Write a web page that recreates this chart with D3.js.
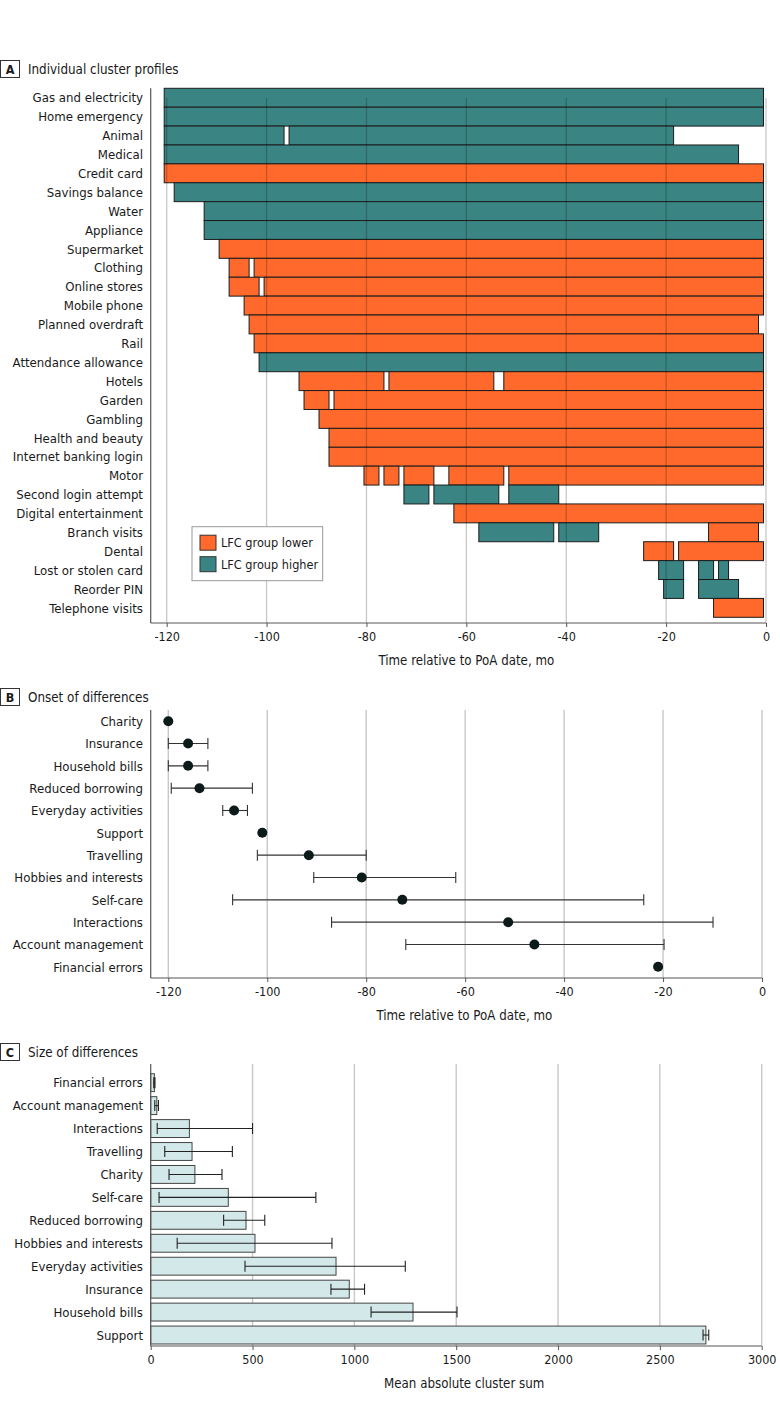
<!DOCTYPE html>
<html>
<head>
<meta charset="utf-8">
<script src="https://cdn.jsdelivr.net/npm/d3@7"></script>
<style>
  body { margin: 0; background: #fff; }
  text { font-family: "DejaVu Sans Condensed", "DejaVu Sans", sans-serif; font-stretch: condensed; fill: #1a1a1a; }
</style>
</head>
<body>
<div id="chart"></div>
<script>
// ---- Panel A: individual cluster profiles (monthly bins, inclusive start/end month)
const profileNames = [
  'Gas and electricity', 'Home emergency', 'Animal', 'Medical', 'Credit card',
  'Savings balance', 'Water', 'Appliance', 'Supermarket', 'Clothing',
  'Online stores', 'Mobile phone', 'Planned overdraft', 'Rail', 'Attendance allowance',
  'Hotels', 'Garden', 'Gambling', 'Health and beauty', 'Internet banking login',
  'Motor', 'Second login attempt', 'Digital entertainment', 'Branch visits', 'Dental',
  'Lost or stolen card', 'Reorder PIN', 'Telephone visits'
];

// [category, group, first month, last month]
const profileSegments = [
  ['Gas and electricity', 'higher', -120, -1],
  ['Home emergency', 'higher', -120, -1],
  ['Animal', 'higher', -120, -97],
  ['Animal', 'higher', -95, -19],
  ['Medical', 'higher', -120, -6],
  ['Credit card', 'lower', -120, -1],
  ['Savings balance', 'higher', -118, -1],
  ['Water', 'higher', -112, -1],
  ['Appliance', 'higher', -112, -1],
  ['Supermarket', 'lower', -109, -1],
  ['Clothing', 'lower', -107, -104],
  ['Clothing', 'lower', -102, -1],
  ['Online stores', 'lower', -107, -102],
  ['Online stores', 'lower', -100, -1],
  ['Mobile phone', 'lower', -104, -1],
  ['Planned overdraft', 'lower', -103, -2],
  ['Rail', 'lower', -102, -1],
  ['Attendance allowance', 'higher', -101, -1],
  ['Hotels', 'lower', -93, -77],
  ['Hotels', 'lower', -75, -55],
  ['Hotels', 'lower', -52, -1],
  ['Garden', 'lower', -92, -88],
  ['Garden', 'lower', -86, -1],
  ['Gambling', 'lower', -89, -1],
  ['Health and beauty', 'lower', -87, -1],
  ['Internet banking login', 'lower', -87, -1],
  ['Motor', 'lower', -80, -78],
  ['Motor', 'lower', -76, -74],
  ['Motor', 'lower', -72, -67],
  ['Motor', 'lower', -63, -53],
  ['Motor', 'lower', -51, -1],
  ['Second login attempt', 'higher', -72, -68],
  ['Second login attempt', 'higher', -66, -54],
  ['Second login attempt', 'higher', -51, -42],
  ['Digital entertainment', 'lower', -62, -1],
  ['Branch visits', 'higher', -57, -43],
  ['Branch visits', 'higher', -41, -34],
  ['Branch visits', 'lower', -11, -2],
  ['Dental', 'lower', -24, -19],
  ['Dental', 'lower', -17, -1],
  ['Lost or stolen card', 'higher', -21, -17],
  ['Lost or stolen card', 'higher', -13, -11],
  ['Lost or stolen card', 'higher', -9, -8],
  ['Reorder PIN', 'higher', -20, -17],
  ['Reorder PIN', 'higher', -13, -6],
  ['Telephone visits', 'lower', -10, -1]
];

const legendGroups = ['lower', 'higher'];
const legendLabels = ['LFC group lower', 'LFC group higher'];
const monthTicks = [-120, -100, -80, -60, -40, -20, 0];

// ---- Panel B: onset of differences (months)
const onsetNames = [
  'Charity', 'Insurance', 'Household bills', 'Reduced borrowing', 'Everyday activities',
  'Support', 'Travelling', 'Hobbies and interests', 'Self-care', 'Interactions',
  'Account management', 'Financial errors'
];
const onsetMid  = [-120, -116, -116, -113.7, -106.7, -101, -91.6, -80.9, -72.7, -51.3, -46, -21];
const onsetLow  = [null, -120, -120, -119.4, -109, null, -102, -90.6, -107, -87, -72, null];
const onsetHigh = [null, -112, -112, -103, -104, null, -80, -61.9, -23.9, -9.9, -19.8, null];

// ---- Panel C: size of differences
const sizeNames = [
  'Financial errors', 'Account management', 'Interactions', 'Travelling', 'Charity',
  'Self-care', 'Reduced borrowing', 'Hobbies and interests', 'Everyday activities',
  'Insurance', 'Household bills', 'Support'
];
const sizeMean = [18, 30, 190, 203, 217, 381, 468, 512, 910, 975, 1288, 2726];
const sizeLow  = [15, 20, 32, 69, 90, 41, 358, 130, 463, 885, 1082, 2712];
const sizeHigh = [21, 38, 500, 401, 350, 811, 560, 890, 1250, 1050, 1504, 2740];
const sizeTicks = [0, 500, 1000, 1500, 2000, 2500, 3000];

const groupColor = { lower: '#ff6a2c', higher: '#3a8584' };

const svg = d3.select('#chart').append('svg')
  .attr('width', 780)
  .attr('height', 1406);

function panelTitle(letter, label, baseline) {
  svg.append('rect')
    .attr('x', 0.5).attr('y', baseline - 13.5)
    .attr('width', 19).attr('height', 17)
    .attr('fill', '#fff').attr('stroke', '#333');
  svg.append('text')
    .attr('x', 10).attr('y', baseline)
    .attr('text-anchor', 'middle')
    .attr('font-weight', 'bold')
    .attr('font-size', 12.5)
    .text(letter);
  svg.append('text')
    .attr('x', 28).attr('y', baseline)
    .attr('font-size', 13.3)
    .text(label);
}

function categoryLabels(names, yScale) {
  svg.append('g').selectAll('text')
    .data(names)
    .enter()
    .append('text')
    .attr('x', 143)
    .attr('y', d => yScale(d) + yScale.bandwidth() / 2)
    .attr('dy', '0.36em')
    .attr('text-anchor', 'end')
    .attr('font-size', 13.1)
    .text(d => d);
}

function bottomAxis(xScale, ticks, y, x0, x1, title) {
  const g = svg.append('g').attr('transform', `translate(0,${y})`)
    .call(d3.axisBottom(xScale).tickValues(ticks).tickSize(4).tickPadding(5).tickFormat(d => String(d)));
  g.select('.domain').remove();
  g.selectAll('.tick line').attr('stroke', '#555');
  g.selectAll('.tick text').attr('font-size', 12.5).attr('fill', '#1a1a1a')
    .style('font-family', '"DejaVu Sans Condensed", "DejaVu Sans", sans-serif')
    .style('font-stretch', 'condensed');
  svg.append('line')
    .attr('x1', x0).attr('x2', x1).attr('y1', y).attr('y2', y)
    .attr('stroke', '#555').attr('stroke-width', 1.2);
  svg.append('text')
    .attr('x', (x0 + x1) / 2 + 8).attr('y', y + 42)
    .attr('text-anchor', 'middle')
    .attr('font-size', 13.2)
    .text(title);
}

function leftAxisLine(x, y0, y1) {
  svg.append('line')
    .attr('x1', x).attr('x2', x).attr('y1', y0).attr('y2', y1)
    .attr('stroke', '#555').attr('stroke-width', 1.2);
}

// ================= Panel A =================
panelTitle('A', 'Individual cluster profiles', 74);

const xA = d3.scaleLinear().domain([-120, 0]).range([166.7, 766]);
const yA = d3.scaleBand().domain(profileNames).range([88.3, 617.3]);

svg.append('g').selectAll('rect')
  .data(profileSegments)
  .enter()
  .append('rect')
  .attr('x', d => xA(d[2] - 0.5))
  .attr('width', d => xA(d[3] + 0.5) - xA(d[2] - 0.5))
  .attr('y', d => yA(d[0]))
  .attr('height', yA.bandwidth())
  .attr('fill', d => groupColor[d[1]])
  .attr('stroke', '#1c1c1c')
  .attr('stroke-width', 1);

svg.append('g').selectAll('line')
  .data(monthTicks)
  .enter()
  .append('line')
  .attr('x1', d => xA(d)).attr('x2', d => xA(d))
  .attr('y1', 98).attr('y2', 623)
  .attr('stroke', '#000')
  .attr('stroke-opacity', 0.22)
  .attr('stroke-width', 1.3);

// legend
const legend = svg.append('g').attr('transform', 'translate(192,526.7)');
legend.append('rect')
  .attr('width', 130.7).attr('height', 54)
  .attr('fill', '#fff').attr('stroke', '#999');
legendGroups.forEach((grp, i) => {
  legend.append('rect')
    .attr('x', 8).attr('y', 8.5 + i * 21.5)
    .attr('width', 16).attr('height', 15)
    .attr('fill', groupColor[grp]).attr('stroke', '#333');
  legend.append('text')
    .attr('x', 29).attr('y', 16 + i * 21.5)
    .attr('dy', '0.36em')
    .attr('font-size', 12.6)
    .text(legendLabels[i]);
});

categoryLabels(profileNames, yA);
leftAxisLine(150.7, 88.3, 623);
bottomAxis(xA, monthTicks, 623, 150.7, 766, 'Time relative to PoA date, mo');

// ================= Panel B =================
panelTitle('B', 'Onset of differences', 702);

const xB = d3.scaleLinear().domain([-120, 0]).range([168.3, 762]);
const yB = d3.scaleBand().domain(onsetNames).range([710, 978]);

svg.append('g').selectAll('line')
  .data(monthTicks)
  .enter()
  .append('line')
  .attr('x1', d => xB(d)).attr('x2', d => xB(d))
  .attr('y1', 710).attr('y2', 978)
  .attr('stroke', '#c8c8c8')
  .attr('stroke-width', 1.4);

const onsetRows = onsetNames.map((name, i) => ({ name, mid: onsetMid[i], low: onsetLow[i], high: onsetHigh[i] }));
const onsetErr = onsetRows.filter(d => d.low !== null);
const cyB = d => yB(d.name) + yB.bandwidth() / 2;

const whiskB = svg.append('g').attr('stroke', '#333').attr('stroke-width', 1.1);
whiskB.selectAll('.bar')
  .data(onsetErr).enter().append('line')
  .attr('x1', d => xB(d.low)).attr('x2', d => xB(d.high))
  .attr('y1', cyB).attr('y2', cyB);
whiskB.selectAll('.capl')
  .data(onsetErr).enter().append('line')
  .attr('x1', d => xB(d.low)).attr('x2', d => xB(d.low))
  .attr('y1', d => cyB(d) - 5.5).attr('y2', d => cyB(d) + 5.5);
whiskB.selectAll('.caph')
  .data(onsetErr).enter().append('line')
  .attr('x1', d => xB(d.high)).attr('x2', d => xB(d.high))
  .attr('y1', d => cyB(d) - 5.5).attr('y2', d => cyB(d) + 5.5);

svg.append('g').selectAll('circle')
  .data(onsetRows).enter().append('circle')
  .attr('cx', d => xB(d.mid))
  .attr('cy', cyB)
  .attr('r', 5)
  .attr('fill', '#0c1a1a');

categoryLabels(onsetNames, yB);
leftAxisLine(150.7, 710, 978);
bottomAxis(xB, monthTicks, 978, 150.7, 762, 'Time relative to PoA date, mo');

// ================= Panel C =================
panelTitle('C', 'Size of differences', 1057);

const xC = d3.scaleLinear().domain([0, 3000]).range([150.7, 761.7]);
const yC = d3.scaleBand().domain(sizeNames).range([1071.2, 1346.5]).paddingInner(0.22).paddingOuter(0.11);

svg.append('g').selectAll('line')
  .data(sizeTicks.slice(1))
  .enter()
  .append('line')
  .attr('x1', d => xC(d)).attr('x2', d => xC(d))
  .attr('y1', 1064).attr('y2', 1346)
  .attr('stroke', '#c8c8c8')
  .attr('stroke-width', 1.4);

const sizeRows = sizeNames.map((name, i) => ({ name, mean: sizeMean[i], low: sizeLow[i], high: sizeHigh[i] }));
const cyC = d => yC(d.name) + yC.bandwidth() / 2;

svg.append('g').selectAll('rect')
  .data(sizeRows).enter().append('rect')
  .attr('x', xC(0))
  .attr('y', d => yC(d.name))
  .attr('width', d => xC(d.mean) - xC(0))
  .attr('height', yC.bandwidth())
  .attr('fill', '#d3e8e8')
  .attr('stroke', '#444')
  .attr('stroke-width', 1);

const whiskC = svg.append('g').attr('stroke', '#222').attr('stroke-width', 1.1);
whiskC.selectAll('.bar')
  .data(sizeRows).enter().append('line')
  .attr('x1', d => xC(d.low)).attr('x2', d => xC(d.high))
  .attr('y1', cyC).attr('y2', cyC);
whiskC.selectAll('.capl')
  .data(sizeRows).enter().append('line')
  .attr('x1', d => xC(d.low)).attr('x2', d => xC(d.low))
  .attr('y1', d => cyC(d) - 5.5).attr('y2', d => cyC(d) + 5.5);
whiskC.selectAll('.caph')
  .data(sizeRows).enter().append('line')
  .attr('x1', d => xC(d.high)).attr('x2', d => xC(d.high))
  .attr('y1', d => cyC(d) - 5.5).attr('y2', d => cyC(d) + 5.5);

categoryLabels(sizeNames, yC);
leftAxisLine(150.7, 1064, 1346);
bottomAxis(xC, sizeTicks, 1346, 150.7, 761.7, 'Mean absolute cluster sum');
</script>
</body>
</html>
